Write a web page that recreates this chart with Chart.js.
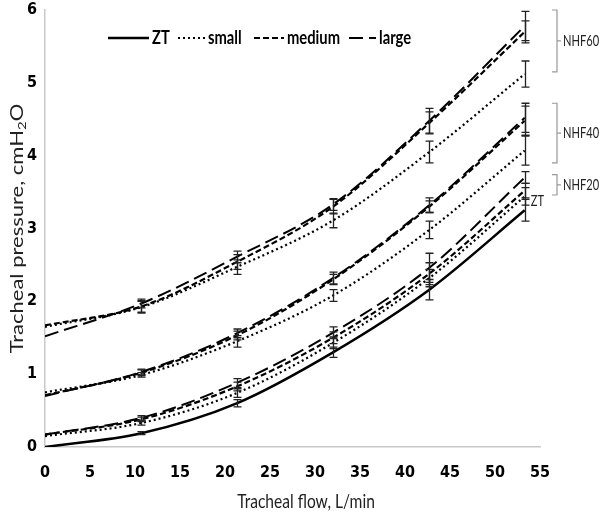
<!DOCTYPE html>
<html>
<head>
<meta charset="utf-8">
<script src="https://cdn.jsdelivr.net/npm/chart.js@4.4.0/dist/chart.umd.min.js"></script>
<style>
  html, body { margin: 0; padding: 0; background: #fff; }
  #c { display: block; }
</style>
</head>
<body>
<canvas id="c" width="602" height="529"></canvas>
<script>
// tracheal flow (L/min), measurement points
const flow = [0, 10.7, 21.3, 32, 42.7, 53.3];

// tracheal pressure (cmH2O)
const zt          = [0.00, 0.19, 0.60, 1.30, 2.16, 3.25];
const nhf20Small  = [0.15, 0.33, 0.74, 1.43, 2.32, 3.44];
const nhf20Medium = [0.17, 0.38, 0.83, 1.50, 2.38, 3.52];
const nhf20Large  = [0.17, 0.40, 0.88, 1.57, 2.46, 3.70];
const nhf40Small  = [0.75, 0.99, 1.45, 2.08, 2.98, 4.07];
const nhf40Medium = [0.71, 1.02, 1.53, 2.30, 3.30, 4.48];
const nhf40Large  = [0.70, 1.03, 1.56, 2.32, 3.32, 4.52];
const nhf60Small  = [1.65, 1.92, 2.47, 3.11, 4.05, 5.12];
const nhf60Medium = [1.67, 1.93, 2.54, 3.30, 4.45, 5.70];
const nhf60Large  = [1.52, 1.97, 2.61, 3.33, 4.48, 5.78];

// error bar half widths (SD)
const ztErr          = [0, 0.02, 0.05, 0.07, 0.14, 0.15];
const nhf20SmallErr  = [0, 0.03, 0.06, 0.08, 0.12, 0.12];
const nhf20MediumErr = [0, 0.03, 0.06, 0.08, 0.15, 0.10];
const nhf20LargeErr  = [0, 0.03, 0.06, 0.08, 0.20, 0.08];
const nhf40SmallErr  = [0, 0.03, 0.08, 0.08, 0.12, 0.20];
const nhf40MediumErr = [0, 0.04, 0.06, 0.07, 0.08, 0.20];
const nhf40LargeErr  = [0, 0.04, 0.06, 0.08, 0.10, 0.20];
const nhf60SmallErr  = [0, 0.08, 0.10, 0.10, 0.15, 0.18];
const nhf60MediumErr = [0, 0.08, 0.10, 0.10, 0.15, 0.15];
const nhf60LargeErr  = [0, 0.06, 0.08, 0.08, 0.17, 0.20];

// legend, titles and group brackets on the right
const legendNames = ['ZT', 'small', 'medium', 'large'];
const groupLabels = ['NHF60', 'NHF40', 'NHF20'];
const groupTop    = [6.00, 4.72, 3.74];
const groupBottom = [5.15, 3.90, 3.46];
const ztLabelAt   = 3.38;
const xTitle = 'Tracheal flow, L/min';
const yTitle = ['Tracheal pressure, cmH', '2', 'O'];

const TICKFONT = '"DejaVu Sans Condensed", "Liberation Sans", sans-serif';
const TEXTFONT = 'Lato, "Liberation Sans", sans-serif';
const SQUEEZE = 0.82;   // the original picture is squeezed horizontally

const styles = {
  ZT:     { dash: [],      width: 2.5 },
  small:  { dash: [2, 3],  width: 2.2 },
  medium: { dash: [6, 3],  width: 2.2 },
  large:  { dash: [14, 6], width: 2.0 }
};

function makeSet(name, values, err, kind) {
  return {
    label: name,
    kind: kind,
    data: flow.map((x, i) => ({ x: x, y: values[i] })),
    err: err,
    borderColor: '#000',
    borderWidth: styles[kind].width,
    borderDash: styles[kind].dash,
    pointRadius: 0,
    fill: false,
    cubicInterpolationMode: 'monotone'
  };
}

const datasets = [
  makeSet('ZT', zt, ztErr, 'ZT'),
  makeSet('NHF20 small', nhf20Small, nhf20SmallErr, 'small'),
  makeSet('NHF20 medium', nhf20Medium, nhf20MediumErr, 'medium'),
  makeSet('NHF20 large', nhf20Large, nhf20LargeErr, 'large'),
  makeSet('NHF40 small', nhf40Small, nhf40SmallErr, 'small'),
  makeSet('NHF40 medium', nhf40Medium, nhf40MediumErr, 'medium'),
  makeSet('NHF40 large', nhf40Large, nhf40LargeErr, 'large'),
  makeSet('NHF60 small', nhf60Small, nhf60SmallErr, 'small'),
  makeSet('NHF60 medium', nhf60Medium, nhf60MediumErr, 'medium'),
  makeSet('NHF60 large', nhf60Large, nhf60LargeErr, 'large')
];

// squeezed text helper
function sqText(ctx, txt, x, y, align, sq) {
  ctx.save();
  ctx.translate(x, y);
  ctx.scale(sq || SQUEEZE, 1);
  ctx.textAlign = align || 'left';
  ctx.fillText(txt, 0, 0);
  ctx.restore();
}

// error bars drawn with the chart scales
const errorBars = {
  id: 'errorBars',
  afterDatasetsDraw(chart) {
    const ctx = chart.ctx;
    const xs = chart.scales.x, ys = chart.scales.y;
    ctx.save();
    ctx.strokeStyle = '#222';
    ctx.lineWidth = 1.3;
    ctx.setLineDash([]);
    chart.data.datasets.forEach(ds => {
      ds.data.forEach((p, i) => {
        const e = ds.err[i];
        if (!e) return;
        const px = Math.round(xs.getPixelForValue(p.x)) + 0.5;
        const top = ys.getPixelForValue(p.y + e);
        const bot = ys.getPixelForValue(p.y - e);
        ctx.beginPath();
        ctx.moveTo(px, top); ctx.lineTo(px, bot);
        ctx.moveTo(px - 4, top); ctx.lineTo(px + 4, top);
        ctx.moveTo(px - 4, bot); ctx.lineTo(px + 4, bot);
        ctx.stroke();
      });
    });
    ctx.restore();
  }
};

const annotations = {
  id: 'annotations',
  afterDraw(chart) {
    const ctx = chart.ctx;
    const xs = chart.scales.x, ys = chart.scales.y;
    const area = chart.chartArea;
    ctx.save();
    ctx.fillStyle = '#000';
    ctx.strokeStyle = '#000';
    ctx.textBaseline = 'middle';

    // legend
    ctx.font = 'bold 18px ' + TEXTFONT;
    const ly = 38;
    const items = [
      { x0: 108, x1: 149 },
      { x0: 178, x1: 205 },
      { x0: 254, x1: 284 },
      { x0: 349, x1: 376 }
    ];
    legendNames.forEach((name, i) => {
      const st = styles[name];
      ctx.lineWidth = st.width;
      ctx.setLineDash(st.dash);
      ctx.beginPath();
      ctx.moveTo(items[i].x0, ly);
      ctx.lineTo(items[i].x1, ly);
      ctx.stroke();
      ctx.setLineDash([]);
      sqText(ctx, name, items[i].x1 + 3, ly);
    });

    // brackets
    ctx.font = '15px ' + TEXTFONT;
    ctx.strokeStyle = '#999';
    ctx.lineWidth = 1.2;
    const bx = area.right + 17;
    groupLabels.forEach((lab, i) => {
      const t = ys.getPixelForValue(groupTop[i]);
      const b = ys.getPixelForValue(groupBottom[i]);
      const m = (t + b) / 2;
      ctx.beginPath();
      ctx.moveTo(bx - 5, t); ctx.lineTo(bx, t); ctx.lineTo(bx, b); ctx.lineTo(bx - 5, b);
      ctx.moveTo(bx, m); ctx.lineTo(bx + 4, m);
      ctx.stroke();
      ctx.fillStyle = '#222';
      sqText(ctx, lab, bx + 6, m, 'left', 0.74);
    });
    sqText(ctx, 'ZT', xs.getPixelForValue(flow[5]) + 6, ys.getPixelForValue(ztLabelAt), 'left', 0.74);

    // axis titles
    ctx.fillStyle = '#222';
    ctx.font = '19px ' + TEXTFONT;
    sqText(ctx, xTitle, 306, 502, 'center');

    ctx.save();
    ctx.translate(17, (area.top + area.bottom) / 2);
    ctx.rotate(-Math.PI / 2);
    ctx.scale(1, SQUEEZE);
    ctx.font = '22px ' + TEXTFONT;
    const w0 = ctx.measureText(yTitle[0]).width;
    ctx.font = '15px ' + TEXTFONT;
    const w1 = ctx.measureText(yTitle[1]).width;
    ctx.font = '22px ' + TEXTFONT;
    const w2 = ctx.measureText(yTitle[2]).width;
    let x = -(w0 + w1 + w2) / 2;
    ctx.textAlign = 'left';
    ctx.fillText(yTitle[0], x, 0); x += w0;
    ctx.font = '15px ' + TEXTFONT;
    ctx.fillText(yTitle[1], x, 6); x += w1;
    ctx.font = '22px ' + TEXTFONT;
    ctx.fillText(yTitle[2], x, 0);
    ctx.restore();

    ctx.restore();
  }
};

new Chart(document.getElementById('c'), {
  type: 'line',
  data: { datasets: datasets },
  options: {
    responsive: false,
    devicePixelRatio: 1,
    animation: false,
    layout: { padding: { left: 0, right: 62, top: 10, bottom: 0 } },
    plugins: { legend: { display: false }, tooltip: { enabled: false } },
    scales: {
      x: {
        type: 'linear', min: 0, max: 55,
        ticks: { stepSize: 5, color: '#000', font: { family: TICKFONT, size: 16, weight: 'bold' }, padding: 16 },
        grid: { display: false, drawTicks: false },
        border: { color: '#c8c8c8', width: 1.5 },
        afterFit(scale) { scale.height = 82; scale.paddingLeft = 0; scale.paddingRight = 0; }
      },
      y: {
        min: 0, max: 6,
        ticks: { stepSize: 1, color: '#000', font: { family: TICKFONT, size: 16, weight: 'bold' }, padding: 8 },
        grid: { display: false, drawTicks: false },
        border: { color: '#c8c8c8', width: 1.5 },
        afterFit(scale) { scale.width = 45; scale.paddingTop = 0; scale.paddingBottom = 0; }
      }
    }
  },
  plugins: [errorBars, annotations]
});
</script>
</body>
</html>
